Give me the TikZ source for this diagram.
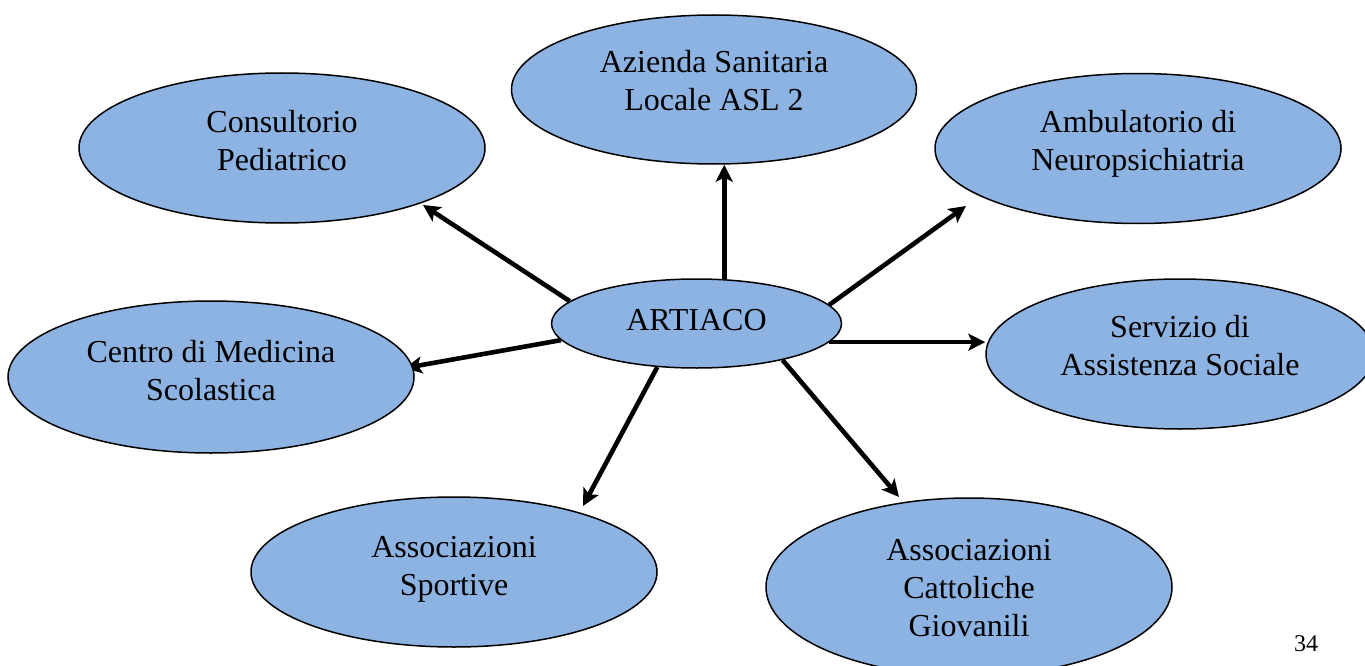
\documentclass[tikz,border=0pt]{standalone}
\usepackage{fontspec}
\setmainfont{Liberation Serif}
\usetikzlibrary{shapes.geometric,arrows.meta,calc}
\definecolor{ellfill}{HTML}{8DB3E2}
\pgfdeclarelayer{bg}
\pgfsetlayers{bg,main}
\begin{document}
\begin{tikzpicture}[x=1pt,y=-1pt,
  blob/.style={ellipse,draw=black,line width=1.5pt,fill=ellfill,inner sep=0pt},
  lbl/.style={anchor=base,inner sep=0pt,font=\fontsize{32}{38}\selectfont},
  arr/.style={line width=4.6pt,-{Stealth[length=17pt,width=17pt,inset=4pt]}}]
\useasboundingbox (0,0) rectangle (1365,666);

% ellipses
\node[blob,minimum width=290pt,minimum height=89pt]  (art) at (696.5,323.5) {};
\node[blob,minimum width=405pt,minimum height=149pt] (asl) at (714,89.5) {};
\node[blob,minimum width=406pt,minimum height=150pt] (con) at (282,148) {};
\node[blob,minimum width=406pt,minimum height=150pt] (amb) at (1138,148.5) {};
\node[blob,minimum width=406pt,minimum height=152pt] (cen) at (211,377) {};
\node[blob,minimum width=388pt,minimum height=150pt] (ser) at (1180,354) {};
\node[blob,minimum width=406pt,minimum height=150pt] (spo) at (454,572) {};
\node[blob,minimum width=406pt,minimum height=178pt] (cat) at (969,587) {};

% texts
\node[lbl] (art-t) at (696.5,330) {ARTIACO};
\node[lbl] (asl-t) at (714,73) {\begin{tabular}[t]{@{}c@{}}Azienda Sanitaria\\Locale ASL 2\end{tabular}};
\node[lbl] (con-t) at (282,132) {\begin{tabular}[t]{@{}c@{}}Consultorio\\Pediatrico\end{tabular}};
\node[lbl] (amb-t) at (1138,132) {\begin{tabular}[t]{@{}c@{}}Ambulatorio di\\Neuropsichiatria\end{tabular}};
\node[lbl] (cen-t) at (211,362) {\begin{tabular}[t]{@{}c@{}}Centro di Medicina\\Scolastica\end{tabular}};
\node[lbl] (ser-t) at (1180,337) {\begin{tabular}[t]{@{}c@{}}Servizio di\\Assistenza Sociale\end{tabular}};
\node[lbl] (spo-t) at (454,557) {\begin{tabular}[t]{@{}c@{}}Associazioni\\Sportive\end{tabular}};
\node[lbl] (cat-t) at (969,560) {\begin{tabular}[t]{@{}c@{}}Associazioni\\Cattoliche\\Giovanili\end{tabular}};

% page number
\node[anchor=base,inner sep=0pt,font=\fontsize{24}{28}\selectfont] (pg) at (1306,651) {34};

% arrows
\begin{pgfonlayer}{bg}
\draw[arr] (art.58) -- (art.58 |- asl.south);
\draw[arr] (art.170.5) -- ($(con.center)+(141,57)$);
\draw[arr] (art.8.9) -- ($(amb.center)+(-172,57.5)$);
\draw[arr] (art.187.4) -- ($(cen.center)+(194,-9)$);
\draw[arr] (art.352.8) -- (art.352.8 -| ser.west);
\draw[arr] (art.228.4) -- ($(spo.center)+(129,-66)$);
\draw[arr] (art.337.1) -- ($(cat.center)+(-70,-90)$);
\end{pgfonlayer}
\end{tikzpicture}
\end{document}
